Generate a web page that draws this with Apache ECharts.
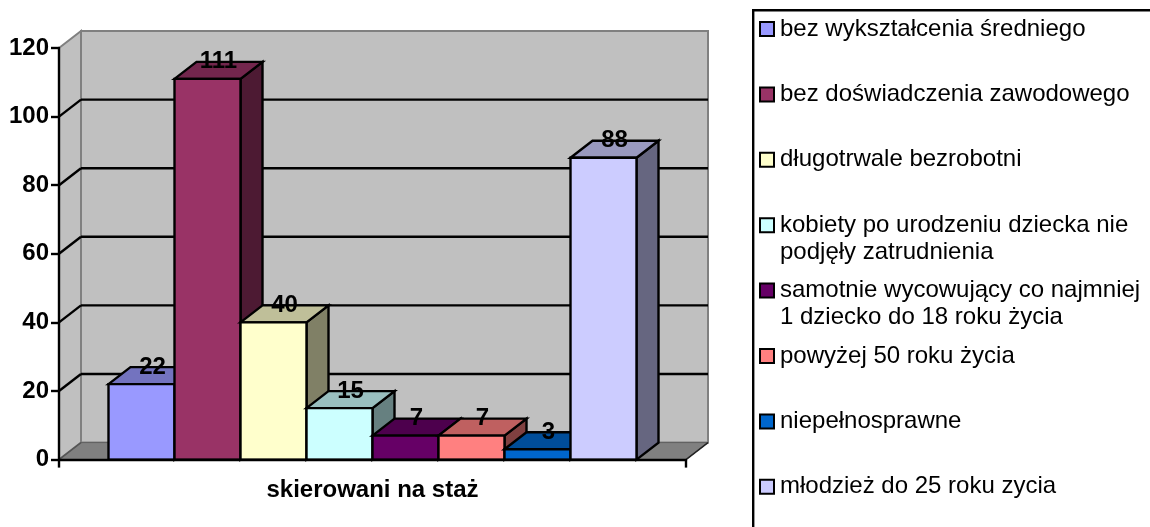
<!DOCTYPE html>
<html><head><meta charset="utf-8">
<style>html,body{margin:0;padding:0;background:#fff}#c{width:1150px;height:527px}</style>
<script src="https://cdn.jsdelivr.net/npm/echarts@6/dist/echarts.min.js"></script>
</head><body><div id="c"></div>
<script>
const categories = ['skierowani na staż'];
const seriesNames = [
  'bez wykształcenia średniego',
  'bez doświadczenia zawodowego',
  'długotrwale bezrobotni',
  'kobiety po urodzeniu dziecka nie\npodjęły zatrudnienia',
  'samotnie wycowujący co najmniej\n1 dziecko do 18 roku życia',
  'powyżej 50 roku życia',
  'niepełnosprawne',
  'młodzież do 25 roku zycia'
];
const seriesValues = [22, 111, 40, 15, 7, 7, 3, 88];
const seriesColors = ['#9999FF', '#993366', '#FFFFCC', '#CCFFFF', '#660066', '#FF8080', '#0066CC', '#CCCCFF'];
const yTicks = [0, 20, 40, 60, 80, 100, 120];

const FONT = '"Liberation Sans", Arial, sans-serif';
const DX = 22, DY = -17;            // depth of the 3D projection, px
const GROUP = 528 / 627;            // share of the category band taken by the bars
const LW = 2.4;
const dark = (hex, k) => {
  const n = parseInt(hex.slice(1), 16);
  const c = [n >> 16 & 255, n >> 8 & 255, n & 255].map(v => Math.round(v * k));
  return `rgb(${c.join(',')})`;
};
const stroke = {stroke: '#000', lineWidth: LW, lineJoin: 'miter'};

const poly = (points, style) => ({type: 'polygon', shape: {points}, style});
const line = (a, b, col, w) => ({type: 'line', shape: {x1: a[0], y1: a[1], x2: b[0], y2: b[1]}, style: {stroke: col, lineWidth: w}});

function renderWalls(params, api) {
  const v = api.value(0);
  const band = api.size([1, 0])[0];
  const cx = api.coord([0, 0])[0];
  const l = cx - band / 2, r = cx + band / 2;
  const y = api.coord([0, v])[1];
  const y0 = api.coord([0, 0])[1];
  const top = api.coord([0, yTicks[yTicks.length - 1]])[1];
  const children = [];
  if (v === yTicks[0]) {
    children.push(
      poly([[l + DX, top + DY], [r + DX, top + DY], [r + DX, y0 + DY], [l + DX, y0 + DY]], {fill: '#C0C0C0', stroke: '#808080', lineWidth: 2}),
      poly([[l, top], [l + DX, top + DY], [l + DX, y0 + DY], [l, y0]], {fill: '#C0C0C0', stroke: '#808080', lineWidth: 2}),
      poly([[l, y0], [l + DX, y0 + DY], [r + DX, y0 + DY], [r, y0]], {fill: '#808080', stroke: '#5f5f5f', lineWidth: 1}),
      line([r, y0], [r + DX, y0 + DY], '#222', 1.5),
      line([l, y0], [l + DX, y0 + DY], '#555', 1.5)
    );
  } else if (v !== yTicks[yTicks.length - 1]) {
    children.push(
      line([l, y], [l + DX, y + DY], '#000', LW),
      line([l + DX, y + DY], [r + DX, y + DY], '#000', LW)
    );
  }
  return {type: 'group', children};
}

const makeBar = (idx) => function (params, api) {
  const val = api.value(0);
  const band = api.size([1, 0])[0];
  const cx = api.coord([0, 0])[0];
  const w = band * GROUP / seriesValues.length;
  const x0 = cx - band * GROUP / 2 + idx * w, x1 = x0 + w;
  const yT = api.coord([0, val])[1], yB = api.coord([0, 0])[1];
  const col = seriesColors[idx];
  return {type: 'group', children: [
    poly([[x1, yT], [x1 + DX, yT + DY], [x1 + DX, yB + DY], [x1, yB]], {fill: dark(col, 0.5), ...stroke}),
    poly([[x0, yT], [x0 + DX, yT + DY], [x1 + DX, yT + DY], [x1, yT]], {fill: dark(col, 0.75), ...stroke}),
    poly([[x0, yT], [x1, yT], [x1, yB], [x0, yB]], {fill: col, ...stroke}),
    {type: 'text', z2: 10, style: {
      x: (x0 + x1) / 2 + DX / 2, y: yT + DY, text: String(val),
      fill: '#000', font: 'bold 24px ' + FONT, align: 'center', verticalAlign: 'middle'
    }}
  ]};
};

const series = [{
  type: 'custom', name: 'walls', coordinateSystem: 'cartesian2d', silent: true, z: 1,
  data: yTicks.map(v => [v]), encode: {y: 0}, renderItem: renderWalls, clip: false
}].concat(seriesNames.map((n, i) => ({
  type: 'custom', name: n, coordinateSystem: 'cartesian2d', z: 2 + i, clip: false,
  itemStyle: {color: seriesColors[i]},
  data: [[seriesValues[i]]], encode: {y: 0}, renderItem: makeBar(i)
})));

const chart = echarts.init(document.getElementById('c'), null, {renderer: 'canvas'});
chart.setOption({
  animation: false,
  backgroundColor: '#fff',
  grid: {left: 59, width: 627, top: 48, height: 411.6, containLabel: false},
  xAxis: {
    type: 'category', data: categories,
    axisLine: {lineStyle: {color: '#000', width: LW}},
    axisTick: {show: true, length: 8, alignWithLabel: false, lineStyle: {color: '#000', width: LW}},
    axisLabel: {color: '#000', fontFamily: FONT, fontWeight: 'bold', fontSize: 24, margin: 19},
    z: 30
  },
  yAxis: {
    type: 'value', min: 0, max: 120, interval: 20,
    axisLine: {show: true, lineStyle: {color: '#000', width: LW}},
    axisTick: {show: true, length: 8, lineStyle: {color: '#000', width: LW}},
    splitLine: {show: false},
    axisLabel: {color: '#000', fontFamily: FONT, fontWeight: 'bold', fontSize: 24, margin: 10},
    z: 30
  },
  legend: {
    orient: 'vertical', left: 759, top: 29 - 40.5, padding: 0, height: 1000,
    itemWidth: 14, itemHeight: 14, itemGap: 65.4 - 81,
    icon: 'rect', selectedMode: false,
    itemStyle: {borderColor: '#000', borderWidth: 2},
    data: seriesNames,
    formatter: n => ' \n' + n + (n.includes('\n') ? '' : '\n '),
    textStyle: {color: '#000', fontFamily: FONT, fontSize: 24, lineHeight: 27, padding: [0, 0, 0, 1]}
  },
  graphic: [{
    type: 'rect', left: 752, top: 9, silent: true,
    shape: {width: 500, height: 600},
    style: {fill: 'transparent', stroke: '#000', lineWidth: LW}
  }],
  series
});
</script></body></html>
